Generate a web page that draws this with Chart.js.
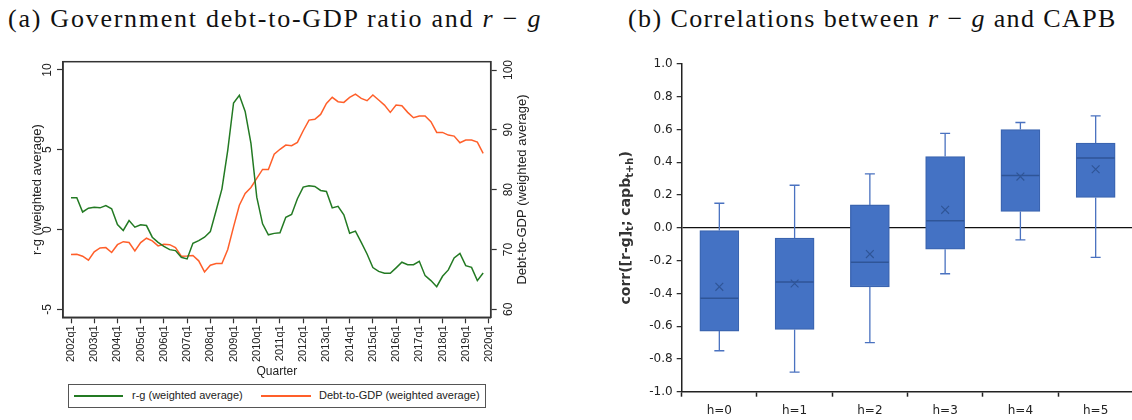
<!DOCTYPE html>
<html>
<head>
<meta charset="utf-8">
<script src="https://cdn.jsdelivr.net/npm/chart.js@4.4.1/dist/chart.umd.min.js"></script>
<style>
  html, body { margin: 0; padding: 0; background: #fff; overflow: hidden; width: 1132px; height: 420px; }
  .ttl { position: absolute; top: 4px; font-family: "Liberation Serif", serif; font-size: 26px; color: #111; white-space: nowrap; }
  #cva { position: absolute; left: 0; top: 40px; }
  #cvb { position: absolute; left: 590px; top: 44px; }
  #lg { position: absolute; left: 68px; top: 384px; width: 416px; height: 22px; border: 1px solid #555; font: 11px "Liberation Sans", Arial, sans-serif; color: #222; }
  #lg .ln { position: absolute; top: 10px; height: 1.5px; }
  #lg .tx { position: absolute; top: 4px; }
</style>
</head>
<body>
<div class="ttl" style="left:8px;letter-spacing:1.75px">(a) Government debt-to-GDP ratio and <i>r</i> − <i>g</i></div>
<div class="ttl" style="left:628px;letter-spacing:1.4px">(b) Correlations between <i>r</i> − <i>g</i> and CAPB</div>
<canvas id="cva" width="560" height="342"></canvas>
<canvas id="cvb" width="550" height="376"></canvas>
<div id="lg">
  <span class="ln" style="left:5px;width:49px;background:#237a23"></span>
  <span class="tx" style="left:63px">r-g (weighted average)</span>
  <span class="ln" style="left:192px;width:50px;background:#ff5f2a"></span>
  <span class="tx" style="left:250px">Debt-to-GDP (weighted average)</span>
</div>
<script>
// ---- panel (a): quarterly series 2002q1..2019q4
const startYear = 2002, endYear = 2019;
const quarters = [];
for (let y = startYear; y <= endYear; y++) for (let q = 1; q <= 4; q++) quarters.push(y + 'q' + q);

const rg = [2.0, 2.0, 1.1, 1.34, 1.4, 1.36, 1.5, 1.3, 0.31, -0.06, 0.56, 0.15,
  0.3, 0.25, -0.48, -0.8, -1.05, -1.26, -1.32, -1.74, -1.84, -0.86, -0.69, -0.48,
  -0.13, 1.19, 2.55, 4.96, 7.93, 8.41, 7.4, 5.4, 2.03, 0.36, -0.33, -0.24,
  -0.2, 0.77, 0.94, 1.93, 2.66, 2.74, 2.7, 2.45, 2.39, 1.36, 1.46, 0.92,
  -0.23, -0.1, -0.8, -1.53, -2.38, -2.62, -2.74, -2.74, -2.4, -2.05, -2.2, -2.2,
  -1.99, -2.89, -3.2, -3.58, -2.93, -2.53, -1.78, -1.49, -2.26, -2.37, -3.2, -2.72];

const debt = [69.15, 69.2, 68.87, 68.2, 69.6, 70.26, 70.32, 69.5, 70.8, 71.3, 71.16, 69.76,
  71.16, 71.88, 71.43, 70.6, 70.88, 70.8, 70.3, 68.87, 68.9, 68.98, 68.1, 66.24,
  67.36, 67.64, 67.64, 69.99, 73.77, 77.4, 79.36, 80.37, 81.87, 83.38, 83.38, 85.94,
  86.75, 87.45, 87.34, 87.9, 89.85, 91.63, 91.75, 92.58, 94.42, 95.43, 94.7, 94.59,
  95.43, 95.98, 95.26, 94.87, 95.82, 94.98, 94.14, 92.92, 94.14, 94.03, 92.92, 92.02,
  92.3, 92.3, 91.35, 89.57, 89.57, 89.12, 88.95, 87.84, 88.28, 88.28, 87.95, 86.06];

const yearTicks = ['2002q1', '2003q1', '2004q1', '2005q1', '2006q1', '2007q1', '2008q1',
  '2009q1', '2010q1', '2011q1', '2012q1', '2013q1', '2014q1', '2015q1', '2016q1',
  '2017q1', '2018q1', '2019q1', '2020q1'];
const rgTicks = [-5, 0, 5, 10];
const debtTicks = [60, 70, 80, 90, 100];

// ---- panel (b): box plot of correlations
const hLabels = ['h=0', 'h=1', 'h=2', 'h=3', 'h=4', 'h=5'];
const boxLow = [-0.63, -0.62, -0.36, -0.13, 0.10, 0.185];
const boxHigh = [-0.016, -0.063, 0.14, 0.435, 0.60, 0.517];
const medians = [-0.43, -0.33, -0.21, 0.043, 0.32, 0.427];
const whiskLow = [-0.75, -0.88, -0.70, -0.28, -0.073, -0.18];
const whiskHigh = [0.15, 0.26, 0.33, 0.576, 0.643, 0.684];
const means = [-0.36, -0.34, -0.16, 0.11, 0.313, 0.358];
const corrTicks = [-1.0, -0.8, -0.6, -0.4, -0.2, 0.0, 0.2, 0.4, 0.6, 0.8, 1.0];

const green = '#237a23', orange = '#ff5f2a';
const axisCol = '#333', txtCol = '#222';
const sansA = '"Liberation Sans", Arial, sans-serif';

const frame = {
  id: 'frame',
  afterDraw(chart) {
    const c = chart.ctx, a = chart.chartArea;
    c.save();
    c.strokeStyle = axisCol; c.lineWidth = 1.5;
    c.strokeRect(a.left, a.top, a.right - a.left, a.bottom - a.top);
    // right axis title, reading bottom to top like the left one
    const s = chart.scales.y2;
    c.translate(s.left + 31.5, (a.top + a.bottom) / 2);
    c.rotate(-Math.PI / 2);
    c.fillStyle = txtCol; c.font = '13px ' + sansA;
    c.textAlign = 'center'; c.textBaseline = 'middle';
    c.fillText('Debt-to-GDP (weighted average)', 0, 0);
    c.restore();
  }
};

new Chart(document.getElementById('cva'), {
  type: 'line',
  data: {
    datasets: [
      { label: 'r-g (weighted average)', data: rg.map((v, i) => ({ x: i, y: v })), yAxisID: 'y',
        borderColor: green, borderWidth: 1.5, pointRadius: 0, tension: 0 },
      { label: 'Debt-to-GDP (weighted average)', data: debt.map((v, i) => ({ x: i, y: v })), yAxisID: 'y2',
        borderColor: orange, borderWidth: 1.5, pointRadius: 0, tension: 0 }
    ]
  },
  options: {
    responsive: false, animation: false, devicePixelRatio: 1,
    layout: { padding: { top: 21.7, left: 0, right: 0, bottom: 0 } },
    plugins: { legend: { display: false }, tooltip: { enabled: false } },
    scales: {
      x: {
        type: 'linear', min: -1.38, max: 72.3,
        afterBuildTicks: s => { s.ticks = yearTicks.map((t, k) => ({ value: k * 4 })); },
        afterFit: s => { s.height = 64.7; },
        ticks: { autoSkip: false, minRotation: 90, maxRotation: 90, padding: 2, color: txtCol,
          font: { family: sansA, size: 11 }, callback: v => yearTicks[v / 4] },
        grid: { drawOnChartArea: false, tickLength: 6, tickColor: axisCol, tickWidth: 1.2 },
        border: { color: axisCol, width: 1.5 },
        title: { display: true, text: 'Quarter', color: txtCol, font: { family: sansA, size: 12 },
          padding: { top: 0, bottom: 3 } }
      },
      y: {
        position: 'left', min: -5.5, max: 10.52,
        afterBuildTicks: s => { s.ticks = rgTicks.map(v => ({ value: v })); },
        afterFit: s => { s.width = 63; },
        ticks: { minRotation: 90, maxRotation: 90, crossAlign: 'center', padding: 3, color: txtCol,
          font: { family: sansA, size: 12 } },
        grid: { drawOnChartArea: false, tickLength: 6, tickColor: axisCol, tickWidth: 1.2 },
        border: { color: axisCol, width: 1.5 },
        title: { display: true, text: 'r-g (weighted average)', color: txtCol,
          font: { family: sansA, size: 13 }, padding: { top: 29.7, bottom: 0 } }
      },
      y2: {
        position: 'right', min: 58.66, max: 101.39,
        afterBuildTicks: s => { s.ticks = debtTicks.map(v => ({ value: v })); },
        afterFit: s => { s.width = 69.3; },
        ticks: { minRotation: 90, maxRotation: 90, crossAlign: 'center', padding: 2, color: txtCol,
          font: { family: sansA, size: 12 } },
        grid: { drawOnChartArea: false, tickLength: 6, tickColor: axisCol, tickWidth: 1.2 },
        border: { color: axisCol, width: 1.5 }
      }
    }
  },
  plugins: [frame]
});

// whiskers, medians and rotated axis title for the box plot
const boxBits = {
  id: 'boxBits',
  afterDatasetDraw(chart, args) {
    if (args.index !== 0) return;
    const c = chart.ctx, xs = chart.scales.x, ys = chart.scales.y;
    c.save();
    hLabels.forEach((h, i) => {
      const x = xs.getPixelForValue(i);
      c.strokeStyle = '#4a72c0'; c.lineWidth = 1.3;
      c.beginPath();
      c.moveTo(x, ys.getPixelForValue(boxHigh[i])); c.lineTo(x, ys.getPixelForValue(whiskHigh[i]));
      c.moveTo(x - 5, ys.getPixelForValue(whiskHigh[i])); c.lineTo(x + 5, ys.getPixelForValue(whiskHigh[i]));
      c.moveTo(x, ys.getPixelForValue(boxLow[i])); c.lineTo(x, ys.getPixelForValue(whiskLow[i]));
      c.moveTo(x - 5, ys.getPixelForValue(whiskLow[i])); c.lineTo(x + 5, ys.getPixelForValue(whiskLow[i]));
      c.stroke();
      c.strokeStyle = '#2f5597'; c.lineWidth = 1.5;
      c.beginPath();
      c.moveTo(x - 19, ys.getPixelForValue(medians[i])); c.lineTo(x + 19, ys.getPixelForValue(medians[i]));
      c.stroke();
    });
    c.restore();
  },
  afterDraw(chart) {
    const c = chart.ctx, a = chart.chartArea;
    const parts = [['corr([r-g]', 0], ['t', 1], ['; capb', 0], ['t+h', 1], [')', 0]];
    const big = 'bold 14px "DejaVu Sans", sans-serif', small = 'bold 10px "DejaVu Sans", sans-serif';
    c.save();
    let w = 0;
    parts.forEach(p => { c.font = p[1] ? small : big; w += c.measureText(p[0]).width; });
    c.translate(chart.scales.y.left + 36, (a.top + a.bottom) / 2);
    c.rotate(-Math.PI / 2);
    c.fillStyle = '#333'; c.textBaseline = 'middle'; c.textAlign = 'left';
    let x = -w / 2;
    parts.forEach(p => {
      c.font = p[1] ? small : big;
      c.fillText(p[0], x, p[1] ? 4 : 0);
      x += c.measureText(p[0]).width;
    });
    c.restore();
  }
};

const sansB = '"DejaVu Sans", sans-serif';
new Chart(document.getElementById('cvb'), {
  type: 'bar',
  data: {
    labels: hLabels,
    datasets: [
      { label: 'box', data: boxLow.map((v, i) => [v, boxHigh[i]]), order: 1,
        backgroundColor: '#4472c4', borderColor: '#3a64b0', borderWidth: 1.3,
        borderSkipped: false, barThickness: 39 },
      { type: 'line', label: 'mean', data: means, order: 0, showLine: false,
        pointStyle: 'crossRot', pointRadius: 5.5, pointBorderWidth: 1.2,
        borderColor: '#2f5597', backgroundColor: 'rgba(0,0,0,0)' }
    ]
  },
  options: {
    responsive: false, animation: false, devicePixelRatio: 1,
    layout: { padding: { top: 20, left: 0, right: 1, bottom: 0 } },
    plugins: { legend: { display: false }, tooltip: { enabled: false } },
    scales: {
      x: {
        offset: true,
        afterFit: s => { s.height = 28.3; },
        ticks: { padding: 7, color: txtCol, font: { family: sansB, size: 12 } },
        grid: { offset: true, drawOnChartArea: false, tickLength: 5, tickColor: '#222', tickWidth: 1.5 },
        border: { color: '#222', width: 1.5 }
      },
      y: {
        min: -1, max: 1,
        afterBuildTicks: s => { s.ticks = corrTicks.map(v => ({ value: v })); },
        afterFit: s => { s.width = 91.7; },
        ticks: { padding: 4, color: txtCol, font: { family: sansB, size: 12 }, callback: v => v.toFixed(1) },
        grid: { color: ctx => (ctx.tick && ctx.tick.value === 0) ? '#111' : 'rgba(0,0,0,0)',
          lineWidth: 1.3, tickLength: 5, tickColor: '#222', tickWidth: 1.2 },
        border: { color: '#222', width: 1.5 }
      }
    }
  },
  plugins: [boxBits]
});
</script>
</body>
</html>
